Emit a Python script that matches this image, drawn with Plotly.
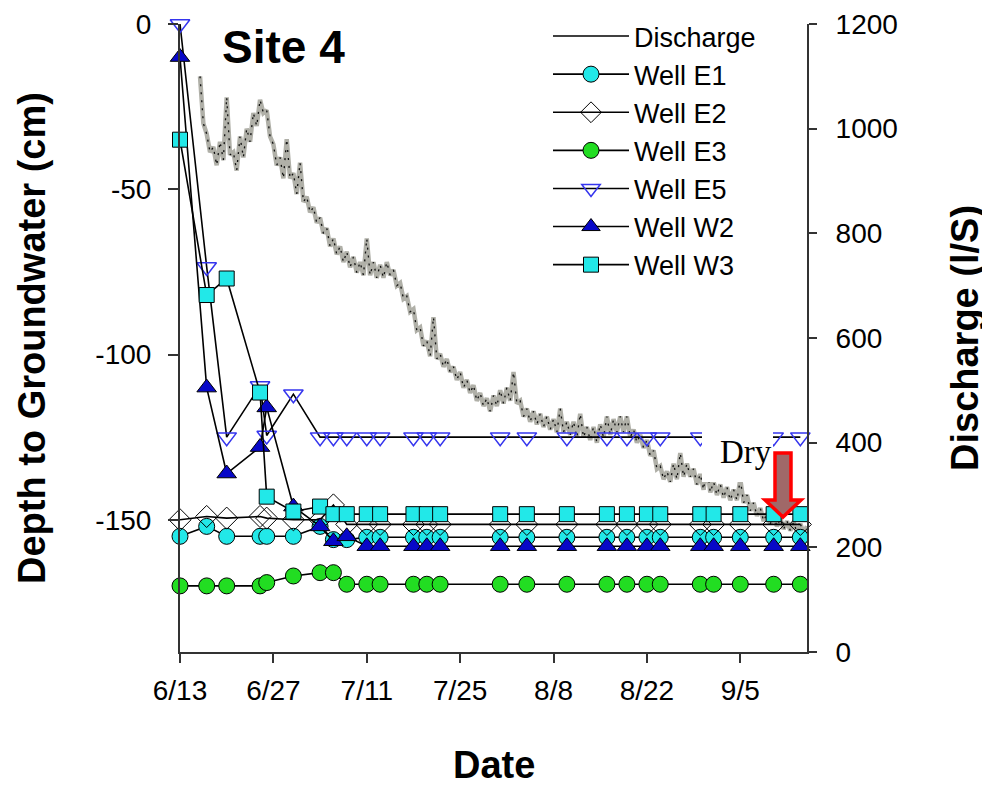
import numpy as np
import plotly.graph_objects as go
from datetime import datetime, timedelta

# ---------------- data ----------------
start_date = datetime(2007, 6, 13)

# well measurement days (days after 6/13)
well_days = [0, 4, 7, 12, 13, 17, 21, 23, 25, 28, 30, 35, 37, 39,
             48, 52, 58, 64, 67, 70, 72, 78, 80, 84, 89, 93]

well_e1 = [-155, -152, -155, -155, -155, -155, -152, -156, -156, -155.3, -155.3, -155.3, -155.3, -155.3,
           -155.3, -155.3, -155.3, -155.3, -155.3, -155.3, -155.3, -155.3, -155.3, -155.3, -155.3, -155.3]
well_e2 = [-150, -149, -149.5, -149, -149.5, -150, -150, -145.5, -151.4, -151.4, -151.4, -151.4, -151.4, -151.4,
           -151.4, -151.4, -151.4, -151.4, -151.4, -151.4, -151.4, -151.4, -151.4, -151.4, -151.4, -151.4]
well_e3 = [-170, -170, -170, -170, -169, -167, -166, -166, -169.5, -169.5, -169.5, -169.5, -169.5, -169.5,
           -169.5, -169.5, -169.5, -169.5, -169.5, -169.5, -169.5, -169.5, -169.5, -169.5, -169.5, -169.5]
well_e5 = [0, -73.5, -125, -109.5, -124.5, -112, -125, -125, -125, -125, -125, -125, -125, -125,
           -125, -125, -125, -125, -125, -125, -125, -125, -125, -125, -125, -125]
well_w2 = [-10, -110, -136, -128, -116, -146, -152, -156.5, -155, -158, -158, -158, -158, -158,
           -158, -158, -158, -158, -158, -158, -158, -158, -158, -158, -158, -158]
well_w3 = [-35, -82, -77, -111.5, -143, -147.5, -146, -148.3, -148.3, -148.3, -148.3, -148.3, -148.3, -148.3,
           -148.3, -148.3, -148.3, -148.3, -148.3, -148.3, -148.3, -148.3, -148.3, -148.3, -148.3, -148.3]

# discharge (l/S), read every half day from day 3 to day 94
discharge_day = np.arange(3.0, 94.01, 0.5)
discharge = [
    1100, 1010, 990, 955, 965, 930, 975, 940, 1060, 950,      # d3-7
    955, 920, 985, 945, 1000, 975, 1030, 1005, 1055, 1030,    # d8-12
    1035, 985, 970, 930, 945, 905, 980, 905, 915, 875,        # d13-17
    935, 860, 870, 840, 850, 820, 830, 800, 810, 775,         # d18-22
    790, 760, 775, 745, 765, 735, 755, 725, 745, 720,         # d23-27
    790, 720, 745, 715, 740, 715, 745, 720, 730, 700,         # d28-32
    705, 675, 680, 650, 655, 615, 620, 585, 595, 565,         # d33-37
    640, 560, 570, 545, 560, 535, 545, 520, 535, 505,         # d38-42
    520, 495, 510, 480, 495, 470, 485, 460, 490, 470,         # d43-47
    500, 475, 505, 480, 535, 475, 480, 450, 465, 440,         # d48-52
    460, 435, 455, 430, 450, 425, 445, 420, 465, 420,         # d53-57
    440, 415, 440, 410, 455, 410, 430, 405, 430, 400,         # d58-62
    435, 410, 450, 415, 445, 420, 450, 420, 450, 410,         # d63-67
    425, 400, 415, 390, 405, 375, 385, 350, 355, 330,         # d68-72
    345, 325, 360, 330, 380, 335, 360, 335, 350, 320,         # d73-77
    340, 310, 360, 305, 325, 300, 320, 295, 315, 290,         # d78-82
    310, 290, 330, 285, 300, 270, 285, 260, 275, 250,         # d83-87
    265, 245, 260, 240, 255, 235, 250, 232, 248, 228,         # d88-92
    245, 228, 240                                             # d93-94
]

tick_days = [0, 14, 28, 42, 56, 70, 84]
tick_labels = ["6/13", "6/27", "7/11", "7/25", "8/8", "8/22", "9/5"]
left_ticks = [0, -50, -100, -150]
left_tick_labels = ["0", "-50", "-100", "-150"]
right_ticks = [0, 200, 400, 600, 800, 1000, 1200]

# ---------------- helpers ----------------
def to_date(d):
    return start_date + timedelta(days=float(d))

well_dates = [to_date(d) for d in well_days]
q_dates = [to_date(d) for d in discharge_day]

OFF = 8                      # page body margin
W, H = 990 - OFF, 787 - OFF
# plot area in page pixels
PL, PR, PT, PB = 180, 807, 24, 652

def pxx(px):
    return (px - PL) / (PR - PL)

def pxy(py):
    return (PB - py) / (PB - PT)

FONT = "Liberation Sans, Arial, sans-serif"
CYAN = "#22e8e8"

fig = go.Figure()

# legend-only entry for discharge
fig.add_trace(go.Scatter(x=[None], y=[None], mode="lines", name="Discharge",
                         line=dict(color="black", width=1.5), yaxis="y"))
# discharge band
fig.add_trace(go.Scatter(x=q_dates, y=discharge, mode="lines", showlegend=False,
                         line=dict(color="#b0b0a8", width=4.5), yaxis="y", hoverinfo="skip"))
fig.add_trace(go.Scatter(x=q_dates, y=discharge, mode="lines", showlegend=False,
                         line=dict(color="#111111", width=1.3, dash="2px,6px"), yaxis="y",
                         hoverinfo="skip"))

wells = [
    ("Well E1", well_e1, dict(symbol="circle", size=16, color=CYAN, line=dict(color="black", width=1))),
    ("Well E2", well_e2, dict(symbol="diamond-open", size=17, color="black", line=dict(width=1))),
    ("Well E3", well_e3, dict(symbol="circle", size=16, color="#22dd22", line=dict(color="black", width=1))),
    ("Well E5", well_e5, dict(symbol="triangle-down-open", size=17, color="#3535ee", line=dict(width=1.5))),
    ("Well W2", well_w2, dict(symbol="triangle-up", size=17, color="#0808c8", line=dict(color="black", width=1))),
    ("Well W3", well_w3, dict(symbol="square", size=15, color=CYAN, line=dict(color="black", width=1))),
]
for name, vals, mk in wells:
    fig.add_trace(go.Scatter(x=well_dates, y=vals, mode="lines+markers", name=name,
                             line=dict(color="black", width=1.6), marker=mk,
                             yaxis="y2", cliponaxis=False))

axis_common = dict(showgrid=False, zeroline=False, showline=True, linecolor="#333333",
                   linewidth=2, ticks="outside", tickcolor="#333333", tickwidth=2,
                   tickfont=dict(family=FONT, size=28, color="black"))

fig.update_layout(
    width=W, height=H,
    margin=dict(l=PL - OFF, r=W - (PR - OFF), t=PT - OFF, b=H - (PB - OFF), autoexpand=False),
    paper_bgcolor="white", plot_bgcolor="white",
    xaxis=dict(type="date", range=[to_date(0), to_date(94)],
               tickvals=[to_date(d) for d in tick_days], ticktext=tick_labels,
               ticklen=9, ticklabelstandoff=3, **axis_common),
    yaxis=dict(side="right", range=[0, 1200], tickvals=right_ticks, ticklen=8,
               ticklabelstandoff=13, **axis_common),
    yaxis2=dict(side="left", overlaying="y", range=[-190, 0], tickvals=left_ticks,
                ticktext=left_tick_labels, ticklen=10, ticklabelstandoff=11, **axis_common),
    legend=dict(x=pxx(548), y=pxy(12), xanchor="left", yanchor="top",
                font=dict(family=FONT, size=27, color="black"), itemwidth=76,
                bgcolor="rgba(0,0,0,0)", traceorder="normal"),
    showlegend=True,
)

# Dry box and arrow
fig.add_shape(type="rect", xref="paper", yref="paper",
              x0=pxx(702), x1=pxx(773), y0=pxy(482), y1=pxy(428),
              fillcolor="white", line=dict(width=0), layer="above")
arrow_pts = [(775, 453), (791, 453), (791, 500), (801, 500), (783, 517), (765, 500), (775, 500)]
path = "M " + " L ".join(f"{pxx(a):.5f},{pxy(b):.5f}" for a, b in arrow_pts) + " Z"
fig.add_shape(type="path", xref="paper", yref="paper", path=path,
              fillcolor="#a06868", line=dict(color="#ff0000", width=3.5), layer="above")

annos = [
    dict(text="<b>Site 4</b>", x=pxx(283), y=pxy(47), size=46, angle=0, family=FONT),
    dict(text="<b>Depth to Groundwater (cm)</b>", x=pxx(32), y=0.5, size=38, angle=-90, family=FONT),
    dict(text="<b>Discharge (l/S)</b>", x=pxx(965), y=0.5, size=38, angle=-90, family=FONT),
    dict(text="<b>Date</b>", x=0.5, y=pxy(765), size=38, angle=0, family=FONT),
    dict(text="Dry", x=pxx(746), y=pxy(452), size=33, angle=0,
         family="Liberation Serif, Times New Roman, serif"),
]
for a in annos:
    fig.add_annotation(text=a["text"], x=a["x"], y=a["y"], xref="paper", yref="paper",
                       xanchor="center", yanchor="middle", showarrow=False, textangle=a["angle"],
                       font=dict(family=a["family"], size=a["size"], color="black"))

fig.write_html("out.html")
